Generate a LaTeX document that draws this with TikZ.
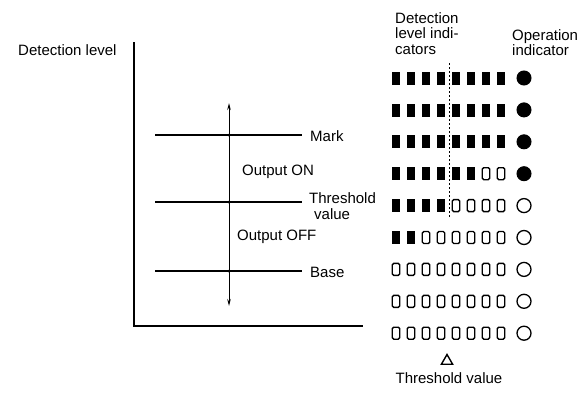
\documentclass[tikz,border=0pt]{standalone}
\usepackage{fontspec}
\setmainfont{Liberation Sans}
\usetikzlibrary{arrows.meta,shapes.geometric}
\begin{document}
\begin{tikzpicture}[x=1pt,y=-1pt,
  lbl/.style={font=\fontsize{15}{15.5}\selectfont, inner sep=0pt, align=left},
  ledon/.style={draw, fill=black, minimum width=7pt, minimum height=12pt, inner sep=0pt, line width=0.8pt},
  ledoff/.style={draw, fill=white, rounded corners=1.5pt, minimum width=7.5pt, minimum height=12pt, inner sep=0pt, line width=1.4pt},
  opon/.style={circle, draw, fill=black, minimum size=14pt, inner sep=0pt, line width=1pt},
  opoff/.style={circle, draw, fill=white, minimum size=14pt, inner sep=0pt, line width=1.3pt},
  axisline/.style={line width=1.4pt},
  thickline/.style={line width=2.4pt},
  thinline/.style={line width=1.3pt},
  dot/.style={circle, fill=black, inner sep=0pt, minimum size=3pt}]
\useasboundingbox (0,0) rectangle (588,394);

% axes
\coordinate (ytop) at (134,42);
\coordinate (orig) at (134,326);
\coordinate (xend) at (363,326);
\draw[axisline] (ytop) -- (orig) -- (xend);
\node[lbl, anchor=west] (dl) at (18,50) {Detection level};

% level lines
\coordinate (ms) at (155,135); \coordinate (me) at (302,135);
\coordinate (ts) at (155,202); \coordinate (te) at (302,202);
\coordinate (bs) at (155,271); \coordinate (be) at (302,271);
\draw[thickline] (ms) -- (me);
\draw[thinline] (ts) -- (te);
\draw[line width=2.1pt] (bs) -- (be);

% double arrow
\coordinate (atop) at (229,103);
\coordinate (abot) at (229,306);
\draw[line width=1pt, {Stealth[length=7pt,width=3.5pt]}-{Stealth[length=7pt,width=3.5pt]}] (abot) -- (atop);
\node[dot] (d1) at (229,135) {};
\node[dot] (d2) at (229,202) {};
\node[dot] (d3) at (229,271) {};

% labels
\node[lbl, anchor=west] (mark) at (310,136) {Mark};
\node[lbl, anchor=west] (on) at (242,172) {Output ON};
\node[lbl, anchor=west] (thr) at (309,206) {Threshold\\\hspace*{5pt}value};
\node[lbl, anchor=west] (off) at (237,237) {Output OFF};
\node[lbl, anchor=west] (base) at (310,272) {Base};

% headers
\node[lbl, anchor=north west] (hdl) at (395,12) {Detection\\level indi-\\cators};
\node[lbl, anchor=north west] (hop) at (512,29) {Operation\\indicator};

% indicators
\foreach \n [count=\i from 0] in {8,8,8,6,4,2,0,0,0} {
  \pgfmathsetmacro{\yy}{78+31.9*\i}
  \foreach \j in {1,...,8} {
    \pgfmathsetmacro{\xx}{396+15*(\j-1)}
    \ifnum\j>\n
      \node[ledoff] (r\i-\j) at (\xx,\yy) {};
    \else
      \node[ledon] (r\i-\j) at (\xx,\yy) {};
    \fi
  }
  \ifnum\i<4
    \node[opon] (c\i) at (524,\yy) {};
  \else
    \node[opoff] (c\i) at (524,\yy) {};
  \fi
}

% threshold dashed line
\coordinate (dt) at (449,63);
\coordinate (db) at (449,217);
\draw[line width=0.9pt, dash pattern=on 2pt off 2pt] (dt) -- (db);

% bottom marker
\node[draw, regular polygon, regular polygon sides=3, minimum size=13pt, inner sep=0pt, line width=1.4pt] (tri) at (447,361) {};
\node[lbl, anchor=center] (tv) at (449,378) {Threshold value};
\end{tikzpicture}
\end{document}
